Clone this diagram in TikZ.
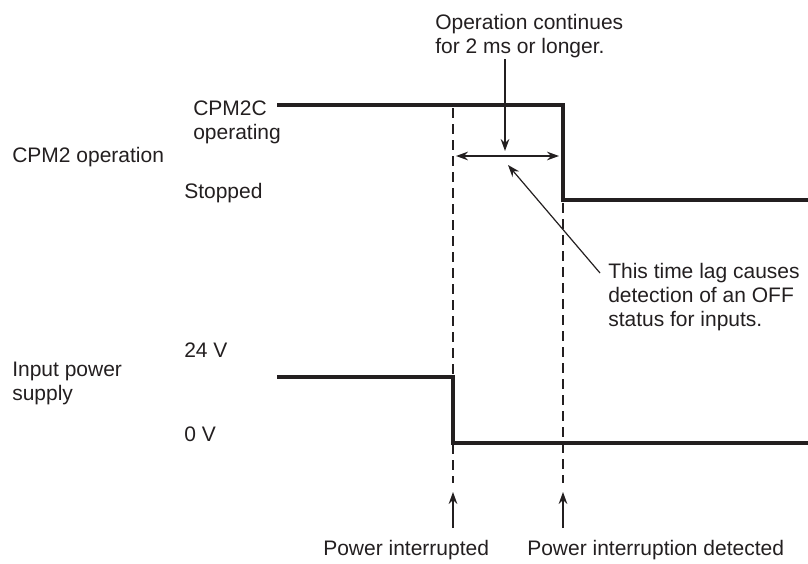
\documentclass[tikz,border=0pt]{standalone}
\usepackage{fontspec}
\setmainfont{Liberation Sans}
\usetikzlibrary{arrows.meta}
\definecolor{ink}{HTML}{231F20}
\begin{document}
\begin{tikzpicture}[x=0.75pt,y=-0.75pt,
  every node/.style={font=\fontsize{15.75}{17.7}\selectfont, text=ink, inner sep=0pt},
  lbl/.style={anchor=base west, align=left},
  sig/.style={draw=ink, line width=2.3pt, line join=miter},
  guide/.style={draw=ink, line width=0.8pt, dash pattern=on 7.5pt off 4.5pt},
  pointer/.style={draw=ink, line width=0.9pt, -{Stealth[length=9pt,width=6.5pt]}},
  span/.style={draw=ink, line width=0.9pt, {Stealth[length=9pt,width=6.5pt]}-{Stealth[length=9pt,width=6.5pt]}}]
\useasboundingbox (0,0) rectangle (808,564);
% signal corners
\coordinate (c0) at (277,105);
\coordinate (c1) at (563,105);
\coordinate (c2) at (563,200);
\coordinate (c3) at (808,200);
\coordinate (p0) at (277,377);
\coordinate (p1) at (453,377);
\coordinate (p2) at (453,443);
\coordinate (p3) at (808,443);
% guide ends
\coordinate (g1t) at (453,108);
\coordinate (g1b) at (453,483);
\coordinate (g2t) at (563,203);
\coordinate (g2b) at (563,483);
% arrow points
\coordinate (sa) at (456,156);
\coordinate (sb) at (559,156);
\coordinate (va) at (505,59);
\coordinate (vb) at (505,151);
\coordinate (da) at (600,273);
\coordinate (db) at (508,165);
\coordinate (b1a) at (453,528);
\coordinate (b1b) at (453,492);
\coordinate (b2a) at (563,528);
\coordinate (b2b) at (563,492);

\draw[sig] (c0) -- (c1) -- (c2) -- (c3);
\draw[sig] (p0) -- (p1) -- (p2) -- (p3);
\draw[guide] (g1t) -- (g1b);
\draw[guide] (g2t) -- (g2b);
\draw[span] (sa) -- (sb);
\draw[pointer] (va) -- (vb);
\draw[pointer] (da) -- (db);
\draw[pointer] (b1a) -- (b1b);
\draw[pointer] (b2a) -- (b2b);

% multi-line nodes: base anchor sits on the last line
\node[lbl] (top) at (435,53) {Operation continues\\for 2 ms or longer.};
\node[lbl] (lag) at (608,326) {This time lag causes\\detection of an OFF\\status for inputs.};
\node[lbl] (cpmc) at (193,139) {CPM2C\\operating};
\node[lbl] (cpmop) at (12,162) {CPM2 operation};
\node[lbl] (stop) at (184,198) {Stopped};
\node[lbl] (v24) at (184,357) {24 V};
\node[lbl] (inp) at (12,400) {Input power\\supply};
\node[lbl] (v0) at (184,441) {0 V};
\node[lbl] (pi) at (323,555) {Power interrupted};
\node[lbl] (pid) at (527,555) {Power interruption detected};
\end{tikzpicture}
\end{document}
